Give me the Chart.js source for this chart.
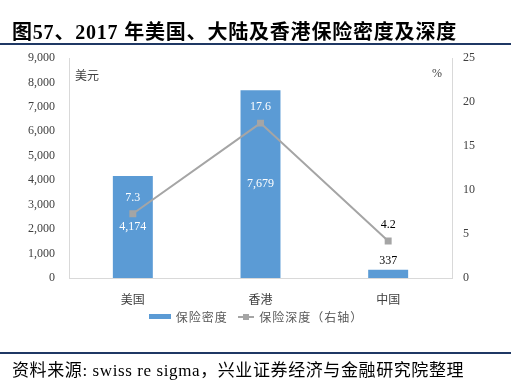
<!DOCTYPE html>
<html>
<head>
<meta charset="utf-8">
<script src="https://cdn.jsdelivr.net/npm/chart.js@4.4.1/dist/chart.umd.min.js"></script>
<style>
  html, body { margin: 0; padding: 0; background: #fff; }
  #wrap { position: relative; width: 519px; height: 389px; overflow: hidden; }
  #chart { position: absolute; left: 0; top: 0; }
  #title { position: absolute; left: 12px; top: 16px; font: bold 20px "Liberation Serif", "Noto Sans CJK SC", serif; color: #000; white-space: nowrap; letter-spacing: 0.8px; }
  .rule { position: absolute; left: 0; width: 511px; height: 2px; background: #1f3864; }
  #source { position: absolute; left: 12px; top: 356px; font: 17px "Liberation Serif", "Noto Sans CJK SC", serif; color: #000; white-space: nowrap; letter-spacing: 0.6px; }
  .unit { position: absolute; font: 12px "Liberation Serif", "Noto Sans CJK SC", serif; color: #404040; }
  #legend { position: absolute; left: 149px; top: 306px; font: 12px "Noto Sans CJK SC", sans-serif; color: #595959; white-space: nowrap; }
  #legend span { display: inline-block; vertical-align: middle; }
</style>
</head>
<body>
<div id="wrap">
  <canvas id="chart" width="519" height="389"></canvas>
  <div id="title">图57、2017 年美国、大陆及香港保险密度及深度</div>
  <div class="rule" style="top:43px"></div>
  <div class="unit" style="left:75px; top:66px">美元</div>
  <div class="unit" style="left:432px; top:66px">%</div>
  <div id="legend">
    <span style="width:22px;height:5px;background:#5b9bd5"></span>
    <span style="margin-left:2px;letter-spacing:1px">保险密度</span>
    <span style="margin-left:8px;width:16px;height:2px;background:#a5a5a5;position:relative">
      <span style="position:absolute;left:5px;top:-2px;width:6px;height:6px;background:#a5a5a5"></span>
    </span>
    <span style="margin-left:2px;letter-spacing:1px">保险深度（右轴）</span>
  </div>
  <div class="rule" style="top:352px"></div>
  <div id="source">资料来源: swiss re sigma，兴业证券经济与金融研究院整理</div>
</div>
<script>
const categories = ['美国', '香港', '中国'];
const density = [4174, 7679, 337];      // 保险密度, 美元
const depth = [7.3, 17.6, 4.2];         // 保险深度, %
const leftTicks = [0, 1000, 2000, 3000, 4000, 5000, 6000, 7000, 8000, 9000];
const rightTicks = [0, 5, 10, 15, 20, 25];

const serif = '"Liberation Serif", "Noto Sans CJK SC", serif';

// draw the value labels on bars and points
const valueLabels = {
    id: 'valueLabels',
    afterDatasetsDraw(chart) {
        const ctx = chart.ctx;
        const bars = chart.getDatasetMeta(0).data;
        const pts = chart.getDatasetMeta(1).data;
        ctx.save();
        ctx.font = '12px ' + serif;
        ctx.textAlign = 'center';
        ctx.textBaseline = 'middle';
        bars.forEach((el, i) => {
            const txt = density[i].toLocaleString('en-US');
            if (el.base - el.y > 30) {
                ctx.fillStyle = '#ffffff';
                ctx.fillText(txt, el.x, (el.y + el.base) / 2);
            } else {
                ctx.fillStyle = '#000000';
                ctx.fillText(txt, el.x, el.y - 9);
            }
        });
        pts.forEach((el, i) => {
            const inside = el.y - 16 > bars[i].y;
            ctx.fillStyle = inside ? '#ffffff' : '#000000';
            ctx.fillText(depth[i].toFixed(1), el.x, el.y - 16);
        });
        ctx.restore();
    }
};

const ctx = document.getElementById('chart').getContext('2d');
new Chart(ctx, {
    data: {
        labels: categories,
        datasets: [{
            type: 'bar',
            label: '保险密度',
            data: density,
            backgroundColor: '#5b9bd5',
            yAxisID: 'y',
            categoryPercentage: 1,
            barPercentage: 0.313,
            order: 2
        }, {
            type: 'line',
            label: '保险深度（右轴）',
            data: depth,
            borderColor: '#a5a5a5',
            backgroundColor: '#a5a5a5',
            borderWidth: 2,
            pointStyle: 'rect',
            pointRadius: 3.5,
            yAxisID: 'y1',
            order: 1
        }]
    },
    options: {
        responsive: false,
        animation: false,
        layout: { padding: { top: 58, left: 0, right: 0, bottom: 81 } },
        plugins: { legend: { display: false }, tooltip: { enabled: false } },
        scales: {
            x: {
                grid: { display: false },
                border: { display: true, color: '#d9d9d9', width: 1 },
                ticks: { color: '#404040', padding: 8, font: { size: 12, family: serif } },
                afterFit: s => { s.height = 30; }
            },
            y: {
                position: 'left',
                min: 0, max: 9000,
                afterBuildTicks: s => { s.ticks = leftTicks.map(v => ({ value: v })); },
                grid: { display: false, drawTicks: false },
                border: { display: true, color: '#d9d9d9', width: 1 },
                ticks: {
                    color: '#404040', padding: 14,
                    font: { size: 12, family: serif },
                    callback: v => v.toLocaleString('en-US')
                },
                afterFit: s => { s.width = 69; }
            },
            y1: {
                position: 'right',
                min: 0, max: 25,
                afterBuildTicks: s => { s.ticks = rightTicks.map(v => ({ value: v })); },
                grid: { display: false, drawTicks: false },
                border: { display: true, color: '#d9d9d9', width: 1 },
                ticks: { color: '#404040', padding: 11, font: { size: 12, family: serif } },
                afterFit: s => { s.width = 67; }
            }
        }
    },
    plugins: [valueLabels]
});
</script>
</body>
</html>
